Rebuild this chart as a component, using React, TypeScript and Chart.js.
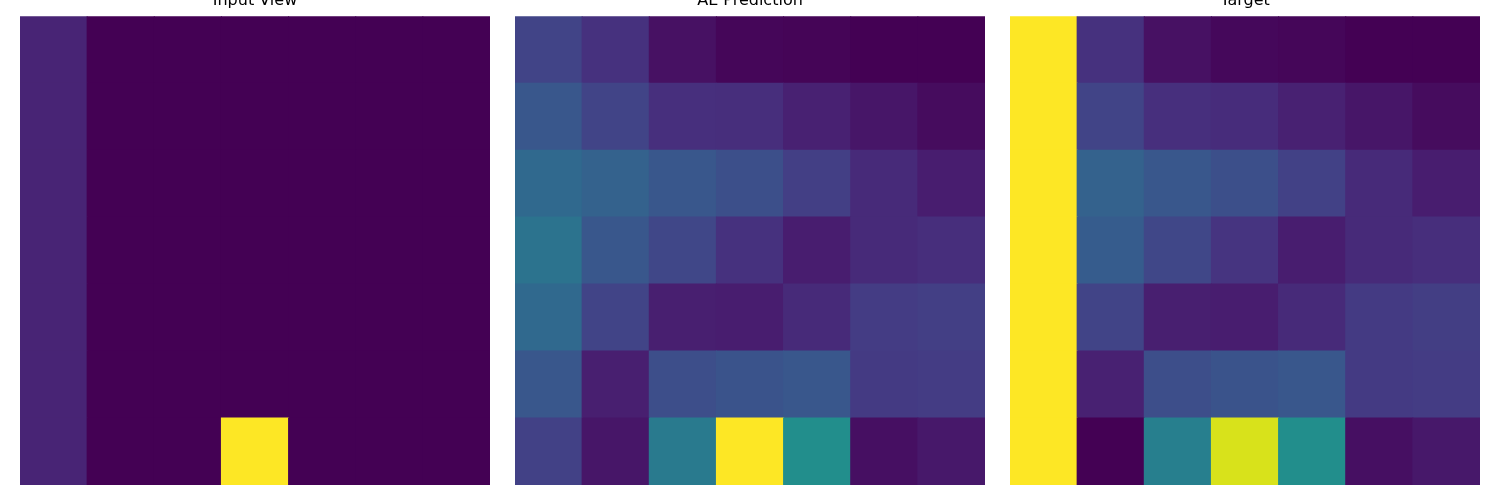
import React, { useEffect, useRef } from "react";
import { Chart, registerables } from "chart.js";

Chart.register(...registerables);

// Panel titles
const panelTitles = ["Input View", "AE Prediction", "Target"];
const columns = ["0", "1", "2", "3", "4", "5", "6"];

// Values (top row first), colour-mapped with viridis over [0, 1]
const inputView: number[][] = [
  [0.1, 0, 0, 0, 0, 0, 0],
  [0.1, 0, 0, 0, 0, 0, 0],
  [0.1, 0, 0, 0, 0, 0, 0],
  [0.1, 0, 0, 0, 0, 0, 0],
  [0.1, 0, 0, 0, 0, 0, 0],
  [0.1, 0, 0, 0, 0, 0, 0],
  [0.1, 0, 0, 1.0, 0, 0, 0],
];

const aePrediction: number[][] = [
  [0.2, 0.14, 0.045, 0.015, 0.01, 0.0, 0.0],
  [0.27, 0.2, 0.135, 0.13, 0.09, 0.06, 0.03],
  [0.34, 0.31, 0.27, 0.24, 0.185, 0.12, 0.08],
  [0.38, 0.27, 0.21, 0.14, 0.08, 0.12, 0.13],
  [0.34, 0.2, 0.085, 0.08, 0.12, 0.175, 0.185],
  [0.27, 0.085, 0.235, 0.255, 0.27, 0.17, 0.175],
  [0.19, 0.06, 0.41, 1.0, 0.49, 0.04, 0.065],
];

const target: number[][] = [
  [1.0, 0.14, 0.045, 0.02, 0.015, 0.0, 0.0],
  [1.0, 0.2, 0.135, 0.125, 0.09, 0.06, 0.03],
  [1.0, 0.31, 0.27, 0.24, 0.19, 0.12, 0.08],
  [1.0, 0.29, 0.21, 0.15, 0.08, 0.12, 0.13],
  [1.0, 0.2, 0.085, 0.08, 0.12, 0.17, 0.18],
  [1.0, 0.09, 0.235, 0.255, 0.27, 0.17, 0.175],
  [1.0, 0.0, 0.43, 0.94, 0.49, 0.04, 0.065],
];

const panelData = [inputView, aePrediction, target];

const viridisStops = [
  "#440154", "#471365", "#482475", "#463480", "#414487", "#3b528b", "#355f8d",
  "#2f6c8e", "#2a788e", "#25848e", "#21918c", "#1e9c89", "#22a884", "#2fb47c",
  "#44bf70", "#5ec962", "#7ad151", "#9bd93c", "#bddf26", "#dfe318", "#fde725",
];

function hexToRgb(h: string): number[] {
  return [1, 3, 5].map((i) => parseInt(h.slice(i, i + 2), 16));
}

function viridis(v: number): string {
  const t = Math.max(0, Math.min(1, v)) * (viridisStops.length - 1);
  const i = Math.min(Math.floor(t), viridisStops.length - 2);
  const f = t - i;
  const a = hexToRgb(viridisStops[i]);
  const b = hexToRgb(viridisStops[i + 1]);
  const c = a.map((x, k) => Math.round(x + (b[k] - x) * f));
  return `rgb(${c[0]},${c[1]},${c[2]})`;
}

const panelLeft = [20, 515, 1010];

function Panel({ idx }: { idx: number }) {
  const ref = useRef<HTMLCanvasElement | null>(null);
  useEffect(() => {
    if (!ref.current) return;
    const grid = panelData[idx];
    const rowsBottomUp = [...grid].reverse();
    const chart = new Chart(ref.current, {
      type: "bar",
      data: {
        labels: columns,
        datasets: rowsBottomUp.map((row, r) => ({
          label: `row ${grid.length - 1 - r}`,
          data: row.map(() => 1),
          backgroundColor: row.map((v) => viridis(v)),
          borderWidth: 0,
          barPercentage: 1,
          categoryPercentage: 1,
          inflateAmount: 0.5,
        })),
      },
      options: {
        animation: false,
        responsive: false,
        maintainAspectRatio: false,
        layout: { padding: 0 },
        plugins: {
          legend: { display: false },
          tooltip: { enabled: false },
          title: {
            display: true,
            text: panelTitles[idx],
            color: "#000",
            font: { family: "DejaVu Sans", size: 16, weight: "normal" },
            padding: { top: 0, bottom: 6 },
          },
        },
        scales: {
          x: { stacked: true, display: false, offset: true },
          y: { stacked: true, display: false, min: 0, max: 7 },
        },
      },
    });
    return () => chart.destroy();
  }, [idx]);
  return (
    <div style={{ position: "absolute", left: panelLeft[idx], top: -9, width: 470, height: 494 }}>
      <canvas ref={ref} width={470} height={494} style={{ width: 470, height: 494 }} />
    </div>
  );
}

export default function App() {
  return (
    <div
      style={{
        position: "fixed",
        left: 0,
        top: 0,
        width: 1500,
        height: 500,
        overflow: "hidden",
        background: "#fff",
      }}
    >
      {[0, 1, 2].map((i) => (
        <Panel key={i} idx={i} />
      ))}
    </div>
  );
}
